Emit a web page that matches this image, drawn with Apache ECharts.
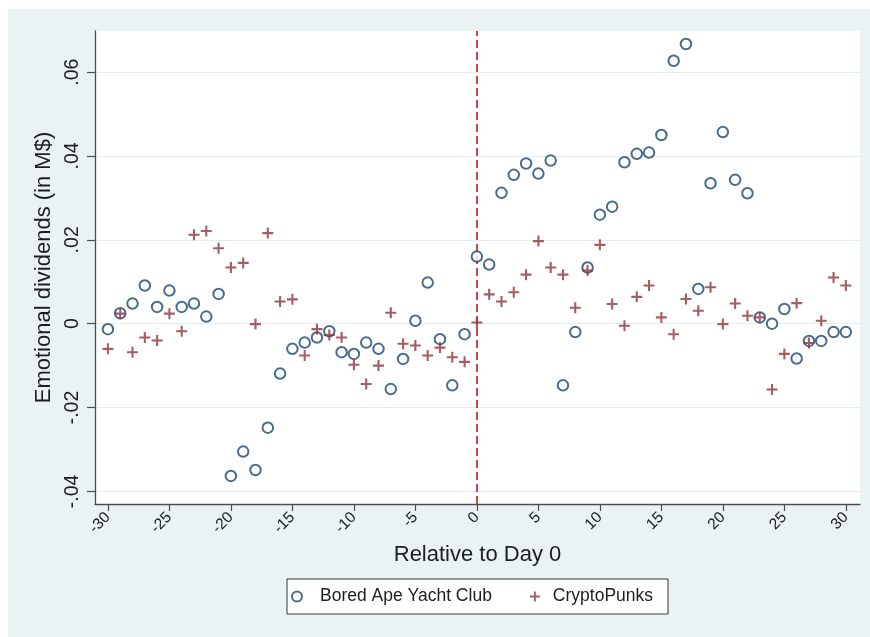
<!DOCTYPE html>
<html>
<head>
<meta charset="utf-8">
<script src="https://cdn.jsdelivr.net/npm/echarts@6/dist/echarts.min.js"></script>
<style>
html, body { margin: 0; padding: 0; background: #ffffff; width: 870px; height: 637px; overflow: hidden; }
#chart { position: absolute; left: 8px; top: 9px; width: 862px; height: 628px; }
</style>
</head>
<body>
<div id="chart"></div>
<script>
// Days relative to day 0
const days = [-30,-29,-28,-27,-26,-25,-24,-23,-22,-21,-20,-19,-18,-17,-16,-15,-14,-13,-12,-11,-10,-9,-8,-7,-6,-5,-4,-3,-2,-1,0,1,2,3,4,5,6,7,8,9,10,11,12,13,14,15,16,17,18,19,20,21,22,23,24,25,26,27,28,29,30];

// Bored Ape Yacht Club (hollow circles)
const bayc = [-0.0013,0.0025,0.0048,0.0091,0.0040,0.0079,0.0040,0.0048,0.0017,0.0071,
  -0.0363,-0.0305,-0.0349,-0.0248,-0.0119,-0.0060,-0.0045,-0.0033,-0.0018,-0.0068,
  -0.0072,-0.0045,-0.0060,-0.0156,-0.0084,0.0007,0.0098,-0.0037,-0.0147,-0.0025,
  0.0160,0.0141,0.0312,0.0355,0.0382,0.0358,0.0389,-0.0147,-0.0020,0.0134,
  0.0260,0.0279,0.0385,0.0405,0.0408,0.0450,0.0627,0.0667,0.0083,0.0335,
  0.0457,0.0343,0.0311,0.0015,0.0000,0.0035,-0.0083,-0.0041,-0.0041,-0.0020,-0.0020];

// CryptoPunks (plus markers)
const punks = [-0.0060,0.0024,-0.0068,-0.0033,-0.0040,0.0024,-0.0018,0.0212,0.0221,0.0180,
  0.0134,0.0145,-0.0001,0.0216,0.0053,0.0058,-0.0076,-0.0013,-0.0027,-0.0033,
  -0.0098,-0.0144,-0.0100,0.0026,-0.0048,-0.0052,-0.0076,-0.0057,-0.0080,-0.0091,
  0.0003,0.0070,0.0053,0.0075,0.0117,0.0197,0.0134,0.0117,0.0038,0.0127,
  0.0188,0.0047,-0.0005,0.0064,0.0091,0.0015,-0.0025,0.0059,0.0031,0.0087,
  -0.0001,0.0048,0.0019,0.0015,-0.0157,-0.0072,0.0049,-0.0046,0.0007,0.0110,0.0091];

// Tick values
const xTicks = [-30,-25,-20,-15,-10,-5,0,5,10,15,20,25,30];
const yTicks = [-0.04,-0.02,0,0.02,0.04,0.06];
const eventDay = [0];

const seriesNames = ['Bored Ape Yacht Club', 'CryptoPunks'];

const FONT = "'Liberation Sans', Arial, Helvetica, sans-serif";
const TXT = '#1e1e1e';
const AXIS = '#4d4d4d';
const NAVY = '#1a476f';
const MAROON = '#90353b';
const PLUS = 'path://M4.05,0H5.95V4.05H10V5.95H5.95V10H4.05V5.95H0V4.05H4.05Z';

function fmtY(v) {
  if (Math.abs(v) < 1e-12) return '0';
  const s = Math.abs(v).toFixed(2).replace(/^0/, '');
  return (v < 0 ? '-' : '') + s;
}

const chart = echarts.init(document.getElementById('chart'), null, { renderer: 'canvas' });

chart.setOption({
  backgroundColor: '#eaf2f3',
  animation: false,
  textStyle: { fontFamily: FONT },
  grid: {
    left: 87, top: 22, right: 10, bottom: 133,
    show: true, backgroundColor: '#ffffff', borderWidth: 0,
    containLabel: false
  },
  legend: {
    left: 279, top: 570,
    orient: 'horizontal',
    backgroundColor: '#ffffff',
    borderColor: '#333333', borderWidth: 1, borderRadius: 0,
    padding: [8, 15, 8, 4],
    itemWidth: 10, itemHeight: 10,
    itemGap: 38,
    selectedMode: false,
    textStyle: { fontFamily: FONT, fontSize: 17.5, color: TXT, lineHeight: 19 },
    data: [
      { name: seriesNames[0], textStyle: { padding: [0, 0, 0, 13] } },
      { name: seriesNames[1], textStyle: { padding: [0, 0, 0, 8] } }
    ]
  },
  xAxis: {
    type: 'value',
    min: -31.05, max: 31.15,
    name: 'Relative to Day 0',
    nameLocation: 'middle',
    nameGap: 37,
    nameTextStyle: { fontFamily: FONT, fontSize: 22, color: TXT },
    axisLine: { show: true, onZero: false, lineStyle: { color: AXIS, width: 1.3 } },
    axisTick: { show: true, inside: false, length: 7, customValues: xTicks, lineStyle: { color: AXIS, width: 1.2 } },
    axisLabel: {
      show: true, customValues: xTicks, rotate: 45, margin: 11,
      fontFamily: FONT, fontSize: 15.5, color: TXT,
      formatter: function (v) { return String(v); }
    },
    splitLine: { show: false }
  },
  yAxis: {
    type: 'value',
    min: -0.043, max: 0.0698,
    name: 'Emotional dividends (in M$)',
    nameLocation: 'middle',
    nameGap: 38,
    nameTextStyle: { fontFamily: FONT, fontSize: 22, color: TXT },
    axisLine: { show: true, onZero: false, lineStyle: { color: AXIS, width: 1.3 } },
    axisTick: { show: true, inside: false, length: 8, customValues: yTicks, lineStyle: { color: AXIS, width: 1.2 } },
    axisLabel: {
      show: true, customValues: yTicks, rotate: 90, margin: 12,
      fontFamily: FONT, fontSize: 19.5, color: TXT,
      formatter: fmtY
    },
    splitLine: { show: true, lineStyle: { color: '#e4ecee', width: 1 } }
  },
  series: [
    {
      name: seriesNames[0],
      type: 'scatter',
      symbol: 'emptyCircle',
      symbolSize: 10.5,
      itemStyle: { color: NAVY, borderColor: NAVY, borderWidth: 1.7 },
      data: days.map((d, i) => [d, bayc[i]]),
      z: 3,
      markLine: {
        silent: true,
        symbol: 'none',
        label: { show: false },
        lineStyle: { color: '#dc2b2b', type: [8, 4], width: 1.8 },
        data: eventDay.map(v => ({ xAxis: v })),
        z: 2
      }
    },
    {
      name: seriesNames[1],
      type: 'scatter',
      symbol: PLUS,
      symbolSize: 11,
      itemStyle: { color: MAROON },
      data: days.map((d, i) => [d, punks[i]]),
      z: 4
    }
  ]
});
</script>
</body>
</html>
